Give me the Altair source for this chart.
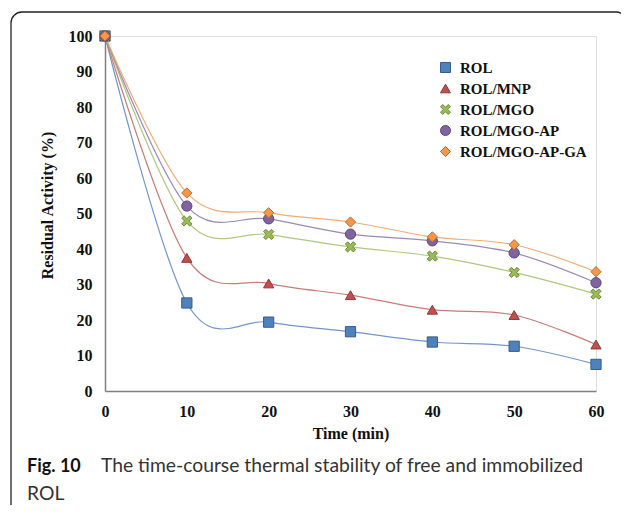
import altair as alt
import pandas as pd

times = [0, 10, 20, 30, 40, 50, 60]
series_names = ["ROL", "ROL/MNP", "ROL/MGO", "ROL/MGO-AP", "ROL/MGO-AP-GA"]
rol = [100, 24.8, 19.4, 16.7, 13.8, 12.6, 7.5]
rol_mnp = [100, 37.5, 30.3, 27.0, 22.9, 21.4, 13.1]
rol_mgo = [100, 47.9, 44.1, 40.6, 38.0, 33.4, 27.3]
rol_mgo_ap = [100, 52.1, 48.5, 44.2, 42.3, 38.9, 30.5]
rol_mgo_ap_ga = [100, 55.8, 50.2, 47.6, 43.4, 41.2, 33.6]
x_ticks = [0, 10, 20, 30, 40, 50, 60]
y_ticks = [0, 10, 20, 30, 40, 50, 60, 70, 80, 90, 100]
caption_bold = ["Fig. 10"]
caption_line1 = ["The time-course thermal stability of free and immobilized"]
caption_line2 = ["ROL"]

fill_colors = ["#4F81BD", "#C0504D", "#9BBB59", "#8064A2", "#F79646"]
edge_colors = ["#385D8A", "#8C3A38", "#6A8A3A", "#5C4776", "#B66D31"]
line_colors = ["#6A90C8", "#C87570", "#AAC578", "#9682B4", "#F2A870"]
x_path = ("M-1,-0.55L-0.55,-1L0,-0.45L0.55,-1L1,-0.55L0.45,0L1,0.55L0.55,1"
          "L0,0.45L-0.55,1L-1,0.55L-0.45,0Z")
shapes = ["square", "triangle-up", x_path, "circle", "diamond"]

rows = []
for name, vals in zip(series_names, [rol, rol_mnp, rol_mgo, rol_mgo_ap, rol_mgo_ap_ga]):
    for t, v in zip(times, vals):
        rows.append({"time": t, "value": v, "series": name})
df = pd.DataFrame(rows)

serif = "Liberation Serif"

x_enc = alt.X("time:Q", scale=alt.Scale(domain=[0, 60], nice=False, zero=False),
              axis=alt.Axis(values=x_ticks, title="Time (min)", grid=False, ticks=False,
                            tickSize=0, labelPadding=12, labelFont=serif, labelFontWeight="bold",
                            labelFontSize=16, labelColor="#111", titleFont=serif,
                            titleFontWeight="bold", titleFontSize=16, titleColor="#111",
                            titleBaseline="middle", titleY=42, domainColor="#808080",
                            domainWidth=1.5, labelFlush=False))
y_enc = alt.Y("value:Q", scale=alt.Scale(domain=[0, 100], nice=False),
              axis=alt.Axis(values=y_ticks, title="Residual Activity (%)", grid=False,
                            ticks=False, tickSize=0, labelPadding=13, labelFont=serif,
                            labelFontWeight="bold", labelFontSize=16, labelColor="#111",
                            titleFont=serif, titleFontWeight="bold", titleFontSize=16,
                            titleColor="#111", titleX=-58, titleY=169, titleAngle=270,
                            titleAlign="center", titleBaseline="middle",
                            domainColor="#808080", domainWidth=1.5, labelFlush=False))

# line colour scale uses reversed order (same mapping) so its disabled legend
# is not merged with the marker legend
lines = alt.Chart(df).mark_line(interpolate="cardinal", strokeWidth=1.2, opacity=0.95).encode(
    x=x_enc, y=y_enc,
    color=alt.Color("series:N", scale=alt.Scale(domain=series_names[::-1],
                                                range=line_colors[::-1]),
                    legend=None),
    detail="series:N",
)

def leg():
    return alt.Legend(title=None, orient="none", legendX=333, legendY=24,
                      labelFont=serif, labelFontWeight="bold", labelFontSize=15,
                      labelColor="#111", labelOffset=7, rowPadding=5,
                      symbolSize=100, symbolStrokeWidth=1, padding=0)

points = alt.Chart(df).mark_point(filled=True, size=105, strokeWidth=1, opacity=1).encode(
    x=x_enc, y=y_enc,
    fill=alt.Fill("series:N", scale=alt.Scale(domain=series_names, range=fill_colors),
                  legend=leg()),
    shape=alt.Shape("series:N", scale=alt.Scale(domain=series_names, range=shapes),
                    legend=leg()),
    stroke=alt.Stroke("series:N", scale=alt.Scale(domain=series_names, range=edge_colors),
                      legend=leg()),
    order=alt.Order("order_idx:Q"),
).transform_calculate(order_idx="indexof(%s, datum.series)" % str(series_names).replace("'", '"'))

frame = alt.Chart(pd.DataFrame({"k": [0]})).mark_rect(
    fill="white", fillOpacity=0, stroke="#222222", strokeWidth=1.3, cornerRadius=11
).encode(x=alt.value(-94), x2=alt.value(522), y=alt.value(-24), y2=alt.value(484))

cap_bold = alt.Chart(pd.DataFrame({"t": caption_bold})).mark_text(
    align="left", baseline="alphabetic", font="Lato", fontSize=18, fontWeight="bold",
    color="#111"
).encode(text="t:N", x=alt.value(-78), y=alt.value(436))

cap1 = alt.Chart(pd.DataFrame({"t": caption_line1})).mark_text(
    align="left", baseline="alphabetic", font="Lato", fontSize=19.3, color="#333"
).encode(text="t:N", x=alt.value(-4), y=alt.value(436))

cap2 = alt.Chart(pd.DataFrame({"t": caption_line2})).mark_text(
    align="left", baseline="alphabetic", font="Lato", fontSize=19.3, color="#333"
).encode(text="t:N", x=alt.value(-78), y=alt.value(464))

chart = alt.layer(frame, lines, points, cap_bold, cap1, cap2).properties(
    width=491, height=355,
    autosize=alt.AutoSizeParams(type="none"),
    padding={"left": 97, "top": 28, "right": 25, "bottom": 114},
).configure_view(stroke=None).configure(background="white")

chart.save("out.html", embed_options={"renderer": "svg", "actions": False})
